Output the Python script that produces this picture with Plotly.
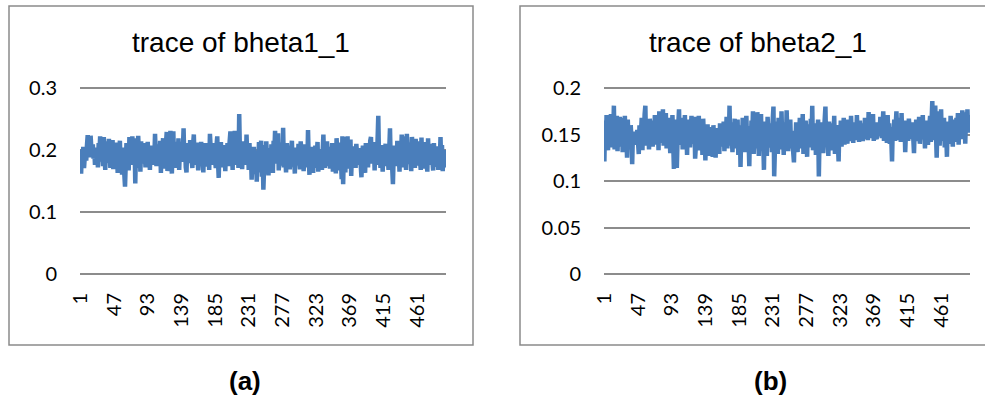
import plotly.graph_objects as go

# ---------------- data ----------------
titles = ["trace of bheta1_1", "trace of bheta2_1"]
panel_labels = ["(a)", "(b)"]
x_tick_labels = ["1", "47", "93", "139", "185", "231", "277", "323", "369", "415", "461"]
y_ticks_a = [0, 0.1, 0.2, 0.3]
y_ticks_a_text = ["0", "0.1", "0.2", "0.3"]
y_ticks_b = [0, 0.05, 0.1, 0.15, 0.2]
y_ticks_b_text = ["0", "0.05", "0.1", "0.15", "0.2"]

bheta1_1 = [
    0.201,0.162,0.195,0.178,0.205,0.171,0.189,0.198,0.183,0.207,0.224,0.196,0.221,0.188,0.223,0.202,0.193,0.209,0.186,0.199,
    0.176,0.204,0.183,0.197,0.172,0.211,0.190,0.222,0.181,0.219,0.203,0.174,0.221,0.192,0.168,0.214,0.187,0.206,0.179,0.218,
    0.195,0.171,0.209,0.184,0.216,0.169,0.201,0.188,0.212,0.176,0.193,0.163,0.207,0.185,0.215,0.172,0.198,0.160,0.204,0.181,
    0.190,0.141,0.178,0.211,0.186,0.202,0.167,0.221,0.194,0.209,0.176,0.222,0.199,0.183,0.216,0.146,0.205,0.219,0.171,0.223,
    0.193,0.208,0.165,0.214,0.187,0.203,0.178,0.211,0.195,0.172,0.206,0.189,0.213,0.181,0.199,0.168,0.207,0.185,0.196,0.176,
    0.204,0.183,0.226,0.191,0.174,0.209,0.186,0.200,0.178,0.215,0.163,0.205,0.192,0.219,0.170,0.201,0.184,0.212,0.229,0.166,
    0.197,0.214,0.178,0.231,0.188,0.162,0.207,0.230,0.175,0.213,0.195,0.171,0.209,0.186,0.219,0.168,0.204,0.191,0.213,0.181,
    0.199,0.235,0.183,0.206,0.172,0.164,0.211,0.190,0.200,0.179,0.216,0.187,0.197,0.171,0.208,0.225,0.183,0.203,0.176,0.212,
    0.188,0.167,0.205,0.194,0.178,0.213,0.185,0.199,0.164,0.207,0.190,0.211,0.173,0.202,0.186,0.209,0.168,0.226,0.195,0.181,
    0.204,0.176,0.211,0.189,0.198,0.171,0.207,0.222,0.183,0.155,0.200,0.186,0.213,0.172,0.195,0.208,0.180,0.197,0.166,0.203,
    0.187,0.211,0.174,0.199,0.218,0.230,0.182,0.205,0.168,0.228,0.193,0.231,0.176,0.209,0.188,0.200,0.171,0.258,0.194,0.183,
    0.207,0.169,0.198,0.214,0.181,0.193,0.176,0.225,0.187,0.200,0.168,0.211,0.178,0.196,0.152,0.189,0.173,0.205,0.161,0.194,
    0.182,0.149,0.199,0.171,0.213,0.164,0.188,0.215,0.157,0.196,0.136,0.181,0.208,0.168,0.214,0.176,0.192,0.159,0.203,0.185,
    0.171,0.209,0.189,0.163,0.215,0.195,0.231,0.178,0.201,0.186,0.227,0.167,0.199,0.212,0.175,0.193,0.183,0.236,0.172,0.204,
    0.188,0.164,0.211,0.192,0.177,0.206,0.169,0.198,0.184,0.215,0.173,0.196,0.188,0.162,0.204,0.181,0.199,0.175,0.210,0.186,
    0.169,0.214,0.190,0.178,0.203,0.166,0.197,0.209,0.181,0.193,0.172,0.232,0.185,0.160,0.199,0.176,0.205,0.187,0.163,0.198,
    0.180,0.207,0.171,0.194,0.213,0.165,0.189,0.201,0.176,0.196,0.168,0.208,0.225,0.183,0.171,0.199,0.187,0.214,0.174,0.192,
    0.205,0.170,0.197,0.182,0.211,0.165,0.193,0.178,0.206,0.162,0.219,0.188,0.174,0.200,0.167,0.212,0.181,0.153,0.222,0.145,
    0.198,0.221,0.164,0.209,0.183,0.222,0.170,0.203,0.189,0.217,0.158,0.195,0.178,0.206,0.185,0.197,0.171,0.210,0.192,0.176,
    0.203,0.182,0.195,0.168,0.156,0.190,0.207,0.174,0.199,0.163,0.211,0.186,0.193,0.172,0.205,0.180,0.215,0.221,0.178,0.196,
    0.184,0.209,0.167,0.213,0.190,0.176,0.218,0.255,0.186,0.199,0.171,0.208,0.192,0.165,0.204,0.182,0.197,0.210,0.174,0.201,
    0.188,0.168,0.203,0.235,0.179,0.196,0.171,0.145,0.192,0.207,0.183,0.199,0.174,0.215,0.186,0.194,0.165,0.209,0.180,0.225,
    0.198,0.172,0.222,0.189,0.205,0.168,0.226,0.191,0.177,0.212,0.185,0.200,0.166,0.221,0.194,0.178,0.207,0.171,0.218,0.189,
    0.201,0.175,0.214,0.186,0.196,0.168,0.220,0.183,0.208,0.192,0.170,0.213,0.188,0.199,0.165,0.219,0.181,0.204,0.176,0.210,
    0.186,0.197,0.167,0.211,0.179,0.202,0.190,0.173,0.206,0.168,0.195,0.183,0.221,0.177,0.208,0.166,0.199,0.185,0.172,0.200,
]

bheta2_1 = [
    0.121,0.165,0.138,0.171,0.147,0.133,0.168,0.152,0.141,0.172,0.136,0.159,0.145,0.181,0.134,0.163,0.149,0.170,0.132,0.158,
    0.143,0.169,0.137,0.155,0.168,0.131,0.162,0.147,0.170,0.139,0.152,0.125,0.166,0.141,0.158,0.134,0.160,0.146,0.118,0.151,
    0.143,0.153,0.139,0.148,0.145,0.155,0.141,0.129,0.160,0.136,0.151,0.168,0.133,0.162,0.147,0.172,0.181,0.138,0.164,0.149,
    0.156,0.134,0.167,0.143,0.165,0.151,0.137,0.162,0.146,0.171,0.139,0.158,0.145,0.166,0.133,0.175,0.152,0.141,0.169,0.148,
    0.177,0.138,0.161,0.146,0.173,0.135,0.157,0.168,0.142,0.155,0.130,0.164,0.150,0.171,0.137,0.113,0.159,0.120,0.166,0.114,
    0.146,0.162,0.177,0.139,0.158,0.151,0.168,0.134,0.163,0.147,0.171,0.141,0.155,0.128,0.166,0.144,0.160,0.136,0.152,0.170,
    0.140,0.158,0.149,0.169,0.124,0.152,0.138,0.165,0.145,0.170,0.133,0.156,0.142,0.163,0.128,0.167,0.147,0.159,0.122,0.154,
    0.136,0.161,0.127,0.149,0.158,0.132,0.155,0.143,0.126,0.160,0.139,0.151,0.125,0.157,0.146,0.134,0.153,0.129,0.162,0.144,
    0.137,0.156,0.141,0.164,0.132,0.152,0.147,0.169,0.135,0.160,0.144,0.181,0.138,0.163,0.150,0.131,0.158,0.142,0.167,0.135,
    0.154,0.139,0.166,0.128,0.148,0.160,0.115,0.152,0.137,0.168,0.142,0.157,0.131,0.163,0.170,0.134,0.151,0.145,0.116,0.159,
    0.138,0.165,0.148,0.175,0.129,0.156,0.143,0.168,0.135,0.174,0.152,0.127,0.161,0.140,0.172,0.133,0.155,0.146,0.112,0.164,
    0.139,0.158,0.127,0.169,0.148,0.136,0.162,0.143,0.155,0.131,0.166,0.180,0.105,0.151,0.164,0.138,0.157,0.129,0.168,0.145,
    0.160,0.134,0.175,0.142,0.153,0.128,0.163,0.147,0.137,0.176,0.149,0.132,0.158,0.141,0.166,0.135,0.152,0.144,0.130,0.120,
    0.154,0.138,0.163,0.146,0.131,0.159,0.142,0.168,0.135,0.150,0.144,0.172,0.129,0.157,0.139,0.165,0.148,0.126,0.161,0.143,
    0.155,0.136,0.167,0.141,0.181,0.133,0.158,0.147,0.162,0.128,0.151,0.139,0.166,0.105,0.149,0.134,0.157,0.143,0.163,0.130,
    0.152,0.168,0.180,0.137,0.159,0.145,0.127,0.164,0.141,0.155,0.133,0.162,0.148,0.138,0.170,0.129,0.153,0.144,0.160,0.135,
    0.121,0.157,0.142,0.165,0.137,0.151,0.146,0.168,0.139,0.160,0.144,0.155,0.140,0.166,0.148,0.152,0.143,0.170,0.145,0.158,
    0.141,0.163,0.149,0.155,0.144,0.171,0.147,0.159,0.142,0.165,0.150,0.146,0.162,0.143,0.157,0.148,0.168,0.145,0.153,0.160,
    0.144,0.174,0.151,0.158,0.146,0.166,0.149,0.172,0.143,0.161,0.152,0.147,0.145,0.163,0.150,0.157,0.148,0.169,0.153,0.146,
    0.159,0.175,0.143,0.165,0.149,0.156,0.141,0.171,0.147,0.162,0.140,0.154,0.145,0.121,0.158,0.148,0.166,0.143,0.160,0.175,
    0.151,0.144,0.168,0.149,0.157,0.142,0.173,0.146,0.160,0.150,0.165,0.131,0.153,0.147,0.162,0.143,0.167,0.152,0.145,0.158,
    0.149,0.163,0.141,0.130,0.158,0.147,0.166,0.143,0.155,0.151,0.169,0.140,0.160,0.152,0.145,0.171,0.148,0.157,0.135,0.162,
    0.146,0.165,0.139,0.158,0.150,0.170,0.142,0.161,0.186,0.148,0.167,0.144,0.181,0.153,0.125,0.160,0.147,0.175,0.138,0.156,
    0.177,0.143,0.162,0.149,0.168,0.136,0.157,0.151,0.126,0.164,0.145,0.159,0.140,0.170,0.148,0.155,0.137,0.166,0.150,0.161,
    0.142,0.168,0.151,0.173,0.139,0.163,0.154,0.171,0.145,0.176,0.157,0.148,0.174,0.140,0.166,0.159,0.177,0.152,0.170,0.168,
]

iter_a = list(range(1, len(bheta1_1) + 1))
iter_b = list(range(1, len(bheta2_1) + 1))
x_tick_vals = [int(t) for t in x_tick_labels]

# ---------------- layout helpers ----------------
W, H = 985, 398
def px(x):
    return x / W
def py(y):
    return 1 - y / H

LINE_COLOR = "#4a7ebb"
GRID = "#8c8c8c"
TICK_FONT = "Lato"
TITLE_FONT = "Liberation Sans"

# plot area: value 0 at pixel row 274, top tick at row 88; pad 4px so edge gridlines are drawn
PAD = 4
Y0_PX, YTOP_PX = 274, 88
span_px = Y0_PX - YTOP_PX
def padded_range(top):
    d = top * PAD / span_px
    return [-d, top + d]

fig = go.Figure()
fig.add_trace(go.Scatter(x=iter_a, y=bheta1_1, mode="lines",
                         line=dict(color=LINE_COLOR, width=4.5),
                         xaxis="x", yaxis="y", showlegend=False, hoverinfo="skip"))
fig.add_trace(go.Scatter(x=iter_b, y=bheta2_1, mode="lines",
                         line=dict(color=LINE_COLOR, width=4.5),
                         xaxis="x2", yaxis="y2", showlegend=False, hoverinfo="skip"))

xcommon = dict(range=[0.5, 500.5], tickmode="array", tickvals=x_tick_vals,
               ticktext=x_tick_labels, tickangle=-90, showgrid=False,
               zeroline=False, showline=False, ticks="", automargin=False,
               tickfont=dict(family=TICK_FONT, size=20, color="#000"),
               ticklabelstandoff=14 - PAD)
ycommon = dict(showgrid=True, gridcolor=GRID, gridwidth=1.5, zeroline=False,
               showline=False, ticks="", automargin=False,
               tickfont=dict(family=TICK_FONT, size=20, color="#000"),
               ticklabelstandoff=22)

y_dom = [py(Y0_PX + PAD), py(YTOP_PX - PAD)]

fig.update_layout(
    width=W, height=H,
    autosize=False,
    margin=dict(l=0, r=0, t=0, b=0, pad=0),
    paper_bgcolor="white", plot_bgcolor="white",
    xaxis=dict(domain=[px(80), px(446)], anchor="y", **xcommon),
    yaxis=dict(domain=y_dom, anchor="x", range=padded_range(y_ticks_a[-1]),
               tickmode="array", tickvals=y_ticks_a, ticktext=y_ticks_a_text, **ycommon),
    xaxis2=dict(domain=[px(604), px(970)], anchor="y2", **xcommon),
    yaxis2=dict(domain=y_dom, anchor="x2", range=padded_range(y_ticks_b[-1]),
                tickmode="array", tickvals=y_ticks_b, ticktext=y_ticks_b_text, **ycommon),
    shapes=[
        dict(type="rect", xref="paper", yref="paper",
             x0=px(9), x1=px(473), y0=py(345), y1=py(6),
             line=dict(color="#8a8a8a", width=1.5), layer="below"),
        dict(type="path", xref="paper", yref="paper",
             path="M {a},{t} L {b},{t} L {b},{u} L {a},{u}".format(
                 a=px(985), b=px(520), t=py(6), u=py(345)),
             line=dict(color="#8a8a8a", width=1.5), layer="below"),
    ],
    annotations=[
        dict(text=titles[0], x=px(241), y=py(42), xref="paper", yref="paper",
             showarrow=False, xanchor="center", yanchor="middle",
             font=dict(family=TITLE_FONT, size=28, color="#000")),
        dict(text=titles[1], x=px(758), y=py(42), xref="paper", yref="paper",
             showarrow=False, xanchor="center", yanchor="middle",
             font=dict(family=TITLE_FONT, size=28, color="#000")),
        dict(text="<b>" + panel_labels[0] + "</b>", x=px(245), y=py(381), xref="paper", yref="paper",
             showarrow=False, xanchor="center", yanchor="middle",
             font=dict(family=TITLE_FONT, size=26, color="#000")),
        dict(text="<b>" + panel_labels[1] + "</b>", x=px(770), y=py(381), xref="paper", yref="paper",
             showarrow=False, xanchor="center", yanchor="middle",
             font=dict(family=TITLE_FONT, size=26, color="#000")),
    ],
)

fig.write_html("out.html", config={"displayModeBar": False},
               post_script="document.body.style.margin='0';document.body.style.overflow='hidden';")
